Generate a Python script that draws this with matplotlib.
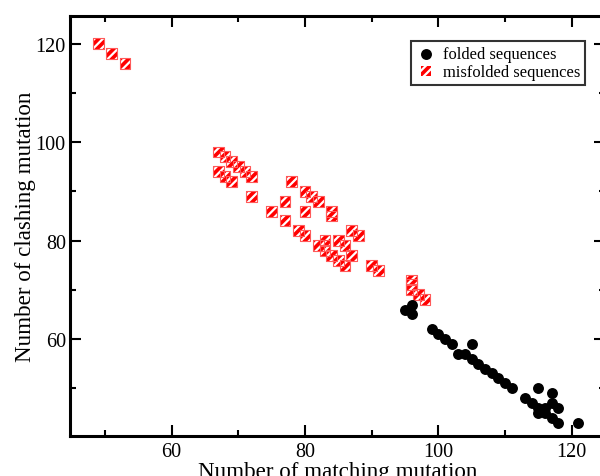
import matplotlib
matplotlib.use("Agg")
import matplotlib.pyplot as plt
from matplotlib.ticker import MultipleLocator

plt.rcParams['font.family'] = ['Liberation Serif', 'DejaVu Serif']
plt.rcParams['hatch.linewidth'] = 1.6

# folded sequences
folded_match = [95, 96, 96, 99, 100, 101, 102, 103, 104, 105, 105, 106, 107, 108,
                109, 110, 111, 113, 114, 115, 115, 115, 116, 116, 117, 117, 118,
                117, 118, 121]
folded_clash = [66, 67, 65, 62, 61, 60, 59, 57, 57, 59, 56, 55, 54, 53,
                52, 51, 50, 48, 47, 50, 46, 45, 46, 45, 49, 47, 46,
                44, 43, 43]

# misfolded sequences
misfolded_match = [49, 51, 53,
                   67, 68, 69, 70, 71, 72, 67, 68, 69, 72,
                   78, 77, 75, 80, 81, 82, 80, 84, 84, 77,
                   79, 80, 87, 88, 83, 85, 82, 83, 86, 83, 84, 85, 86, 87,
                   90, 91, 96, 96, 96, 97, 98]
misfolded_clash = [120, 118, 116,
                   98, 97, 96, 95, 94, 93, 94, 93, 92, 89,
                   92, 88, 86, 90, 89, 88, 86, 86, 85, 84,
                   82, 81, 82, 81, 80, 80, 79, 79, 79, 78, 77, 76, 75, 77,
                   75, 74, 72, 71, 70, 69, 68]

fig = plt.figure(figsize=(6.0, 4.77), dpi=100)
ax = fig.add_axes([70 / 600, 40 / 477, 535 / 600, 420.3 / 477])

ax.scatter(folded_match, folded_clash, s=62, c='black', marker='o',
           linewidths=0, zorder=3, label='folded sequences')
ax.scatter(misfolded_match, misfolded_clash, s=62, marker='s',
           facecolor='#ff0000', edgecolor='white', hatch='////',
           linewidths=0, zorder=2)
ax.scatter(misfolded_match, misfolded_clash, s=62, marker='s',
           facecolor='none', edgecolor='#ff5a5a', linewidths=0.8, zorder=2)

# legend proxy for the hatched squares
proxy = ax.scatter([], [], s=50, marker='s', facecolor='#ff0000',
                   edgecolor='white', hatch='////', linewidths=0,
                   label='misfolded sequences')

ax.set_xlim(44.75, 125)
ax.set_ylim(40.3, 125.7)
ax.xaxis.set_major_locator(MultipleLocator(20))
ax.xaxis.set_minor_locator(MultipleLocator(10))
ax.yaxis.set_major_locator(MultipleLocator(20))
ax.yaxis.set_minor_locator(MultipleLocator(10))

ax.tick_params(which='both', direction='in', top=True, right=True,
               width=1.5, labelsize=14.5)
ax.tick_params(axis='x', pad=4)
ax.tick_params(axis='y', pad=3)
ax.tick_params(which='major', length=8)
ax.tick_params(which='minor', length=4)
for sp in ax.spines.values():
    sp.set_linewidth(2.2)

ax.set_xlabel('Number of matching mutation', fontsize=16.6, labelpad=0)
ax.set_ylabel('Number of clashing mutation', fontsize=16.6, labelpad=0)

leg = ax.legend(loc='upper right', bbox_to_anchor=(585 / 600, 1 - 42 / 477),
                bbox_transform=fig.transFigure, fontsize=11.9, frameon=True,
                fancybox=False, borderpad=0.3, handletextpad=0.4,
                labelspacing=0.1, handlelength=1.2, borderaxespad=0,
                scatterpoints=1)
leg.get_frame().set_edgecolor('black')
leg.get_frame().set_linewidth(1.5)

fig.savefig('out.png', dpi=100)
